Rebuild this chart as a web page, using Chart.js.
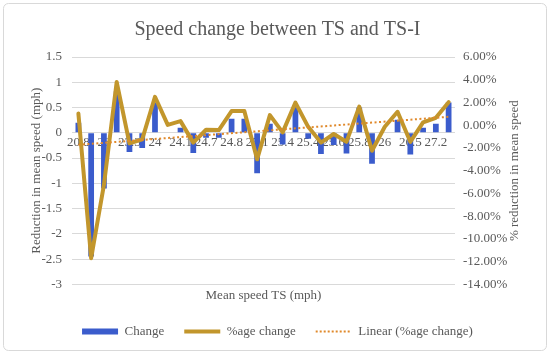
<!DOCTYPE html>
<html>
<head>
<meta charset="utf-8">
<script src="https://cdn.jsdelivr.net/npm/chart.js@4.4.1/dist/chart.umd.min.js"></script>
<style>
  html, body { margin: 0; padding: 0; background: #ffffff; }
  #wrap { position: relative; width: 550px; height: 353px; }
</style>
</head>
<body>
<div id="wrap"><canvas id="c" width="550" height="353"></canvas></div>
<script>
// ---- Data ----
const categories = ['20.8','22.1','23','23.1','23.3','23.8','24','24.1','24.1','24.5',
                    '24.7','24.7','24.8','24.9','25.1','25.2','25.4','25.4','25.4','25.5',
                    '25.6','25.7','25.8','25.9','26','26.2','26.5','26.8','27.2','27.5'];
const changeMph = [0.2, -2.45, -1.1, 0.82, -0.38, -0.3, 0.6, 0, 0.1, -0.4,
                   -0.1, -0.1, 0.28, 0.28, -0.8, 0.18, -0.23, 0.55, -0.12, -0.42,
                   -0.24, -0.41, 0.5, -0.61, 0, 0.26, -0.43, 0.1, 0.18, 0.6];
const pctChange = [1.03, -11.7, -5.25, 3.8, -1.6, -1.25, 2.5, 0.03, 0.36, -1.53,
                   -0.4, -0.43, 1.24, 1.24, -3.0, 0.89, -0.63, 1.99, -0.14, -1.53,
                   -0.77, -1.46, 1.64, -2.25, -0.14, 1.18, -1.46, 0.25, 0.65, 2.03];
const trendEnds = [-1.72, 0.74];   // linear trend of %age change at first / last category
const leftTicks = [1.5, 1, 0.5, 0, -0.5, -1, -1.5, -2, -2.5, -3];
const rightTicks = [6, 4, 2, 0, -2, -4, -6, -8, -10, -12, -14];

const FONT = "'Liberation Serif', 'Times New Roman', serif";
const GREY = '#595959';
const BLUE = '#3b5ccc';
const GOLD = '#c2962c';
const ORANGE = '#e0892b';

const trendData = categories.map((_, i) =>
  i === 0 ? trendEnds[0] : (i === categories.length - 1 ? trendEnds[1] : null));

const borderPlugin = {
  id: 'outerBorder',
  beforeDraw(chart) {
    const ctx = chart.ctx;
    ctx.save();
    ctx.fillStyle = '#ffffff';
    ctx.fillRect(0, 0, chart.width, chart.height);
    ctx.strokeStyle = '#d9d9d9';
    ctx.lineWidth = 1;
    ctx.beginPath();
    if (ctx.roundRect) ctx.roundRect(3.5, 3.5, chart.width - 7, chart.height - 6, 5);
    else ctx.rect(3.5, 3.5, chart.width - 7, chart.height - 6);
    ctx.stroke();
    ctx.restore();
  }
};

const rightTitlePlugin = {
  id: 'rightTitle',
  afterDraw(chart) {
    const s = chart.scales.y1;
    const ctx = chart.ctx;
    ctx.save();
    ctx.font = '13px ' + FONT;
    ctx.fillStyle = GREY;
    ctx.textAlign = 'center';
    ctx.textBaseline = 'middle';
    ctx.translate(s.left + 60, (s.top + s.bottom) / 2);
    ctx.rotate(-Math.PI / 2);
    ctx.fillText('% reduction in mean speed', 0, 0);
    ctx.restore();
  }
};

new Chart(document.getElementById('c'), {
  type: 'bar',
  data: {
    labels: categories,
    datasets: [
      {
        type: 'bar', label: 'Change', data: changeMph, yAxisID: 'y',
        backgroundColor: BLUE, borderWidth: 0,
        barPercentage: 0.45, categoryPercentage: 1, order: 3
      },
      {
        type: 'line', label: '%age change', data: pctChange, yAxisID: 'y1',
        borderColor: GOLD, backgroundColor: GOLD, borderWidth: 4,
        pointRadius: 0, tension: 0, fill: false, order: 2,
        borderJoinStyle: 'round', borderCapStyle: 'round'
      },
      {
        type: 'line', label: 'Linear (%age change)', data: trendData, yAxisID: 'y1',
        borderColor: ORANGE, backgroundColor: ORANGE, borderWidth: 2,
        borderDash: [2, 2.5], pointRadius: 0, tension: 0, fill: false,
        spanGaps: true, order: 1
      }
    ]
  },
  options: {
    responsive: false,
    animation: false,
    devicePixelRatio: 1,
    layout: { padding: { left: 25, right: 20, top: 0, bottom: 5 } },
    plugins: {
      tooltip: { enabled: false },
      title: {
        display: true,
        text: 'Speed change between TS and TS-I',
        color: GREY,
        font: { family: FONT, size: 20, weight: 'normal' },
        padding: { top: 18, bottom: 15 }
      },
      legend: {
        position: 'bottom',
        labels: {
          color: GREY,
          font: { family: FONT, size: 13 },
          usePointStyle: true,
          pointStyleWidth: 36,
          boxHeight: 13,
          padding: 20,
          sort: (a, b) => a.datasetIndex - b.datasetIndex,
          generateLabels(chart) {
            const items = Chart.defaults.plugins.legend.labels.generateLabels(chart);
            items.forEach(it => {
              it.pointStyle = 'line';
              if (it.datasetIndex === 0) { it.strokeStyle = BLUE; it.lineWidth = 6; it.lineDash = []; }
              if (it.datasetIndex === 1) { it.strokeStyle = GOLD; it.lineWidth = 4; it.lineDash = []; }
              if (it.datasetIndex === 2) { it.strokeStyle = ORANGE; it.lineWidth = 2; it.lineDash = [2, 2]; }
            });
            return items;
          }
        }
      }
    },
    scales: {
      x: {
        type: 'category',
        position: { y: 0 },
        grid: { display: false, drawTicks: false },
        border: { display: false },
        ticks: {
          color: GREY, font: { family: FONT, size: 13 },
          autoSkip: false, maxRotation: 0, minRotation: 0, padding: 2,
          callback(v, i) { return i % 2 === 0 ? categories[i] : ''; }
        }
      },
      xTitle: {
        type: 'category',
        position: 'bottom',
        grid: { display: false, drawTicks: false },
        border: { display: false },
        ticks: { display: false },
        title: {
          display: true, text: 'Mean speed TS (mph)', color: GREY,
          font: { family: FONT, size: 13 }, padding: { top: 3, bottom: 2 }
        }
      },
      y: {
        position: 'left',
        min: -3, max: 1.5,
        afterBuildTicks(s) { s.ticks = leftTicks.map(v => ({ value: v })); },
        afterFit(s) { s.width = 47; },
        grid: { color: '#d9d9d9', lineWidth: 1, drawTicks: false },
        border: { display: false },
        ticks: {
          color: GREY, font: { family: FONT, size: 13 }, padding: 10,
          callback(v) { return String(v); }
        },
        title: {
          display: true, text: 'Reduction in mean speed (mph)', color: GREY,
          font: { family: FONT, size: 13 }, padding: { top: 4, bottom: 0 }
        }
      },
      y1: {
        position: 'right',
        min: -14, max: 6,
        afterBuildTicks(s) { s.ticks = rightTicks.map(v => ({ value: v })); },
        afterFit(s) { s.width = 75; },
        grid: { display: false, drawTicks: false },
        border: { display: false },
        ticks: {
          color: GREY, font: { family: FONT, size: 13 }, padding: 8,
          callback(v) { return v.toFixed(2) + '%'; }
        }
      }
    }
  },
  plugins: [borderPlugin, rightTitlePlugin]
});
</script>
</body>
</html>
